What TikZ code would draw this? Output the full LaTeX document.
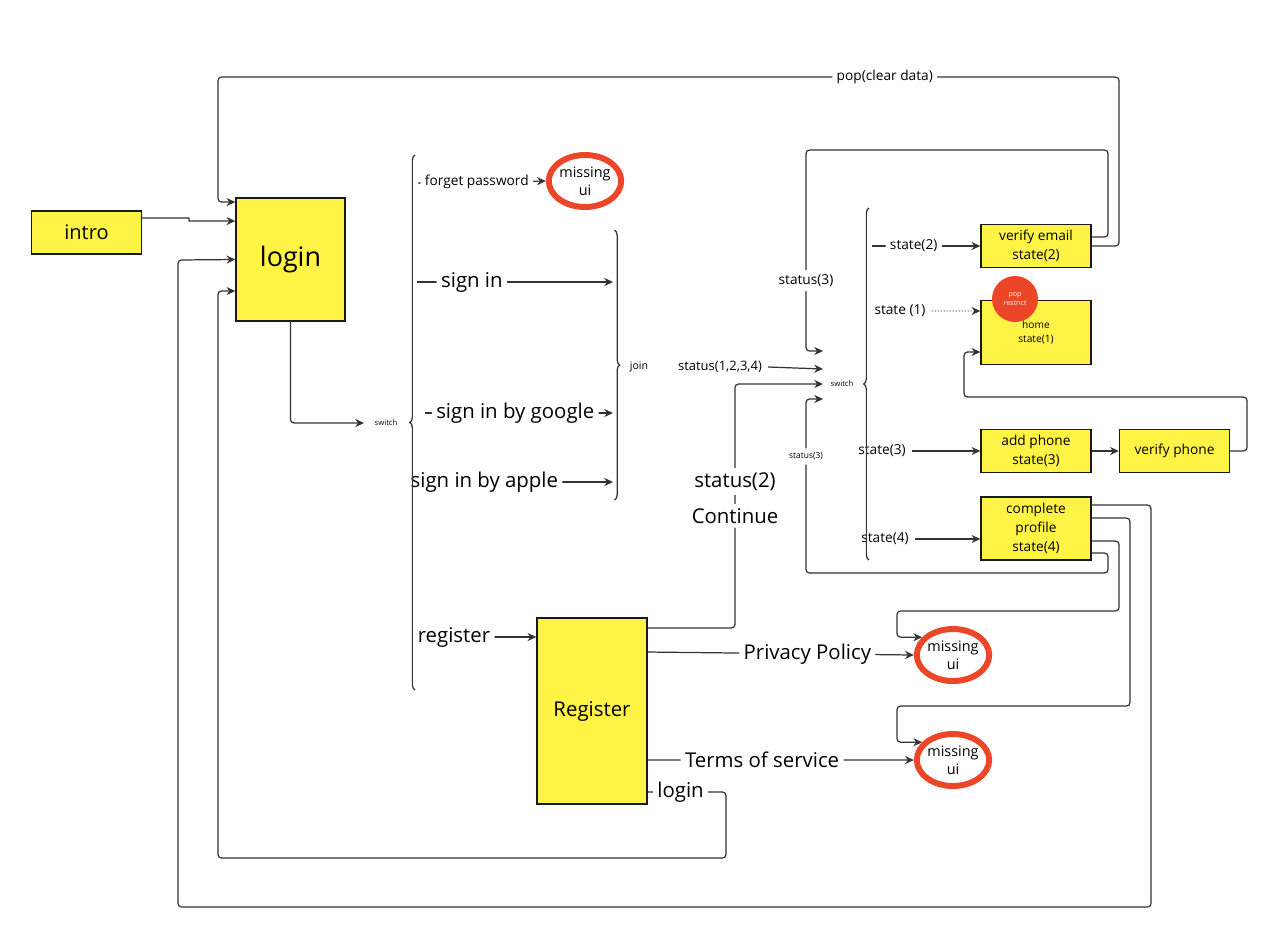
\documentclass[tikz,border=0pt]{standalone}
\usepackage{fontspec}
\setmainfont{Open Sans}
\usetikzlibrary{shapes,arrows.meta,positioning,calc,decorations.pathreplacing}
\definecolor{stickyyellow}{RGB}{255,244,69}
\definecolor{missingred}{RGB}{236,70,40}
\definecolor{linegray}{RGB}{51,51,51}

\begin{document}
\begin{tikzpicture}[
        x=0.02cm, y=-0.02cm,
        box/.style={rectangle, draw=black!90, line width=0.8pt, fill=stickyyellow, align=center, inner sep=0pt, minimum width=2.2cm, minimum height=0.86cm},
        missing/.style={ellipse, draw=missingred, line width=3.4pt, minimum width=1.36cm, minimum height=1.04cm, inner sep=0pt, align=center, font=\fontsize{8.2}{10.2}\selectfont},
        arrow/.style={-{Stealth[length=5pt, width=4.6pt]}, draw=linegray, line width=0.7pt, rounded corners=2pt},
        lbl/.style={fill=white, inner sep=2.5pt},
        largetxt/.style={font=\fontsize{11.6}{14}\selectfont},
        midtxt/.style={font=\fontsize{7.8}{10.8}\selectfont},
        curly/.style={decorate, decoration={brace, amplitude=3pt}, draw=linegray, line width=0.7pt}
    ]
        \useasboundingbox (0,0) rectangle (1280,934);

        % screens
        \node[box, font=\fontsize{11.4}{13}\selectfont] (intro) at (86.5,232.5) {intro};
        \node[box, minimum width=2.18cm, minimum height=2.46cm, font=\fontsize{15.3}{18}\selectfont] (login) at (290.5,259.5) {login};
        \node[box, minimum height=3.72cm, largetxt] (register) at (592,711) {Register};
        \node[box, midtxt] (verifyemail) at (1036,246) {verify email\\state(2)};
        \node[box, minimum height=1.28cm, font=\fontsize{5.8}{8}\selectfont] (home) at (1036,332.5) {home\\state(1)};
        \node[box, midtxt] (addphone) at (1036,451) {add phone\\state(3)};
        \node[box, midtxt] (verifyphone) at (1174.5,451) {verify phone};
        \node[box, minimum height=1.26cm, midtxt] (profile) at (1036,528.5) {complete\\profile\\state(4)};
        \node[circle, fill=missingred, minimum size=0.92cm, inner sep=0pt, text=white, align=center, font=\fontsize{4}{5}\selectfont] (poprestrict) at (1015,299) {pop\\restrict};

        \node[missing] (missing1) at (585,181) {missing\\ui};
        \node[missing] (missing2) at (953,655) {missing\\ui};
        \node[missing] (missing3) at (953,760) {missing\\ui};

        % switch / join labels
        \node[font=\fontsize{4.4}{5}\selectfont] (switch1) at (386,423) {switch};
        \node[font=\fontsize{6}{7}\selectfont] (join) at (639,367) {join};
        \node[font=\fontsize{4.4}{5}\selectfont] (switch2) at (842,384) {switch};
        \coordinate (sw1in) at (364,423);
        \coordinate (sw2a) at (823,351);
        \coordinate (sw2b) at (823,369);
        \coordinate (sw2c) at (823,384);
        \coordinate (sw2d) at (823,399);

        % brace ends
        \coordinate (b1) at (418,183);
        \coordinate (b2) at (417,282);
        \coordinate (b3) at (425,413);
        \coordinate (b4) at (412,482);
        \coordinate (b5) at (417,637);
        \coordinate (j2) at (613,282);
        \coordinate (j3) at (613,413);
        \coordinate (j4) at (613,482);
        \coordinate (r1) at (872,246);

        % intro
        \draw[arrow, rounded corners=0pt] ([yshift=0.29cm]intro.east) -- (189,218) -- (189,221) -- ([yshift=0.77cm]login.west);

        % pop(clear data)
        \draw[arrow] (verifyemail.east) -- (1119,246) -- (1119,77) -- node[lbl, midtxt, pos=0.26] {pop(clear data)} (218,77) -- (218,202) -- ([yshift=1.15cm]login.west);

        % back to login
        \draw[arrow] ([yshift=0.47cm]profile.east) -- (1151,505) -- (1151,907) -- (178,907) -- (178,260) -- (login.west);
        \draw[arrow] ([yshift=-1.62cm]register.east) -- node[lbl, largetxt, pos=0.42] {login} (726,792) -- (726,858) -- (218,858) -- (218,291) -- ([yshift=-0.63cm]login.west);

        % login switch
        \draw[arrow] (login.south) |- (sw1in);
        \draw[arrow] (b1) -- node[lbl, midtxt, pos=0.46] {forget password} (missing1.west);
        \draw[arrow] (b2) -- node[lbl, largetxt, pos=0.28] {sign in} (j2);
        \draw[arrow] (b3) -- node[lbl, largetxt, pos=0.48] {sign in by google} (j3);
        \draw[arrow] (b4) -- node[lbl, largetxt, pos=0.36] {sign in by apple} (j4);
        \draw[arrow] (b5) -- node[lbl, largetxt, pos=0.31] {register} (b5 -| register.west);

        % into status switch
        \node[font=\fontsize{7.4}{9}\selectfont] (statusall) at (720,367) {status(1,2,3,4)};
        \draw[arrow] (statusall.east) -- (sw2b);
        \draw[arrow] ([yshift=1.66cm]register.east) -- (735,628) -- node[lbl, largetxt, pos=0.46] {Continue} node[lbl, largetxt, pos=0.6] {status(2)} (735,384) -- (sw2c);
        \draw[arrow] ([yshift=0.18cm]verifyemail.east) -- (1108,237) -- (1108,150) -- (806,150) -- node[lbl, midtxt, pos=0.65] {status(3)} (806,351) -- (sw2a);
        \draw[arrow] ([yshift=-0.49cm]profile.east) -- (1108,553) -- (1108,573) -- (806,573) -- node[lbl, font=\fontsize{4.8}{6}\selectfont, pos=0.67] {status(3)} (806,399) -- (sw2d);

        % states
        \draw[arrow] (r1) -- node[lbl, midtxt, pos=0.385] {state(2)} (verifyemail.west);
        \node[midtxt] (state1) at (900,311) {state (1)};
        \draw[arrow, densely dotted, line width=0.5pt] (state1.east) -- ([yshift=0.43cm]home.west);
        \node[midtxt] (state3) at (882,451) {state(3)};
        \draw[arrow] (state3.east) -- (addphone.west);
        \node[midtxt] (state4) at (885,539) {state(4)};
        \draw[arrow] (state4.east) -- (state4.east -| profile.west);

        \draw[arrow] (addphone) -- (verifyphone);
        \draw[arrow] (verifyphone.east) -- (1247,451) -- (1247,397) -- (964,397) -- (964,352) -- ([yshift=-0.39cm]home.west);

        % profile to missing ui
        \draw[arrow] ([yshift=-0.25cm]profile.east) -- (1119,541) -- (1119,611) -- (897,611) |- (missing2.150);
        \draw[arrow] ([yshift=0.21cm]profile.east) -- (1130,518) -- (1130,706) -- (897,706) |- (missing3.150);

        % register links
        \draw[arrow] ([yshift=1.18cm]register.east) -- node[lbl, largetxt, pos=0.6] {Privacy Policy} (missing2.west);
        \draw[arrow] ([yshift=-0.98cm]register.east) -- node[lbl, largetxt, pos=0.43] {Terms of service} (missing3.west);

        % braces
        \draw[curly] (415,690) -- (415,155);
        \draw[curly] (614.5,230) -- (614.5,500);
        \draw[curly] (869,560) -- (869,208);

    \end{tikzpicture}
\end{document}
